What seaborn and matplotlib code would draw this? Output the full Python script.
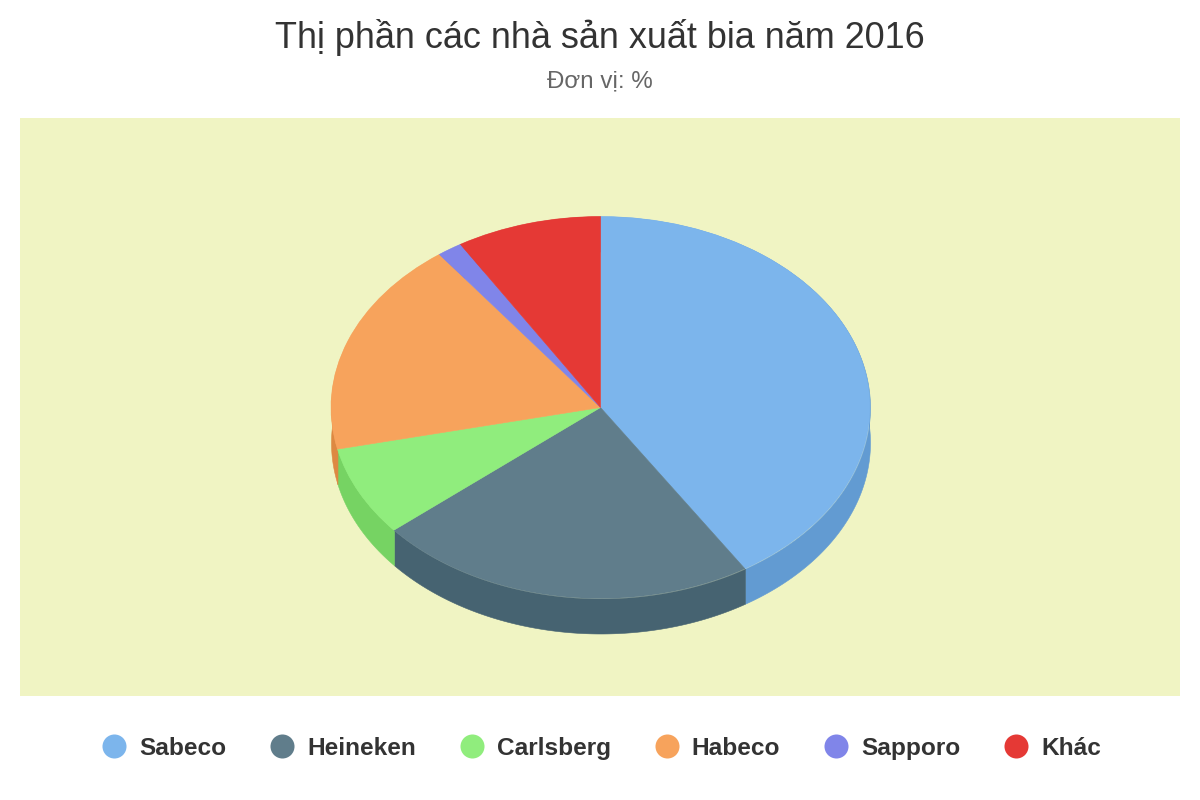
import numpy as np
import seaborn as sns
import matplotlib.pyplot as plt
from matplotlib.lines import Line2D

# du lieu
brands = ['Sabeco', 'Heineken', 'Carlsberg', 'Habeco', 'Sapporo', 'Khác']
shares = [41.0, 22.9, 7.6, 18.3, 1.5, 8.7]
top_colors = ['#7cb5ec', '#607d8b', '#90ed7d', '#f7a35c', '#8085e9', '#e53935']
side_colors = ['#629bd2', '#466371', '#76d363', '#dd8942', '#666bcf', '#cb1f1b']

sns.set_theme(style='white')
plt.rcParams['font.family'] = ['Liberation Sans', 'DejaVu Sans']

fig = plt.figure(figsize=(12, 8), dpi=100, facecolor='white')
ax = fig.add_axes([20 / 1200, 104 / 800, 1160 / 1200, 578 / 800])

# thanh ben cua banh, nam duoi mat tren
depth = 35 / 191
edges = np.cumsum([0] + shares) / sum(shares) * 2 * np.pi
for i in range(len(shares)):
    a = np.linspace(edges[i], edges[i + 1], 200)
    ax.fill_between(np.sin(a), np.cos(a), np.cos(a) - depth, color=side_colors[i], lw=0.4, zorder=1)

wedges, _ = ax.pie(shares, colors=sns.color_palette(top_colors), startangle=90, counterclock=False,
                   wedgeprops={'linewidth': 0.4})
for w, c in zip(wedges, top_colors):
    w.set_edgecolor(c)
    w.set_zorder(2)

# bo ty le deu de hinh tron thanh elip
ax.set_aspect('auto')
ax.set_xlim(-580.5 / 269.5, 579.5 / 269.5)
ax.set_ylim(-288.5 / 191, 289.5 / 191)
ax.set_facecolor('#f0f4c3')
ax.set_frame_on(True)
sns.despine(ax=ax, left=True, bottom=True)

fig.text(0.5, 1 - 48 / 800, 'Thị phần các nhà sản xuất bia năm 2016', ha='center', va='baseline',
         fontsize=25.9, color='#333333')
fig.text(0.5, 1 - 87 / 800, 'Đơn vị: %', ha='center', va='baseline', fontsize=17.4, color='#666666')

handles = [Line2D([], [], linestyle='none', marker='o', markersize=17.3, markeredgewidth=0,
                  markerfacecolor=c) for c in top_colors]
leg = fig.legend(handles, brands, ncols=6, loc='center', bbox_to_anchor=(601.5 / 1200, 1 - 748.5 / 800), frameon=False,
                 handlelength=1, handletextpad=0.524, columnspacing=1.787,
                 prop={'weight': 'bold', 'size': 17.6})
for t in leg.get_texts():
    t.set_color('#333333')

fig.savefig('out.png', dpi=100)
